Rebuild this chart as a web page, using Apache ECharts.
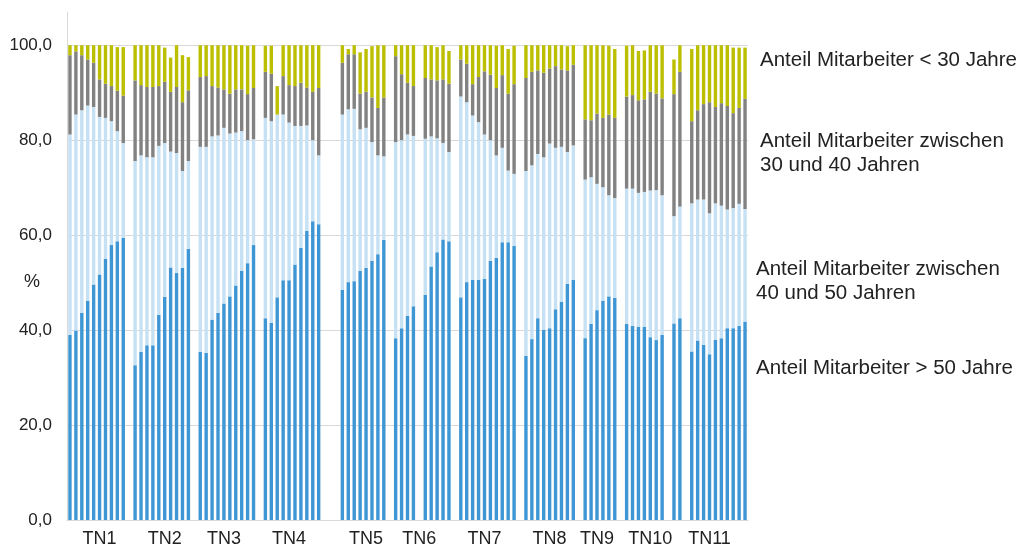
<!DOCTYPE html>
<html>
<head>
<meta charset="utf-8">
<script src="https://cdn.jsdelivr.net/npm/echarts@6/dist/echarts.min.js"></script>
<style>
  html, body { margin: 0; padding: 0; background: #fff; }
  #chart { width: 1021px; height: 549px; }
</style>
</head>
<body>
<div id="chart"></div>
<script>
// one slot per bar, null = empty slot between/inside the groups
// Anteil Mitarbeiter > 50 Jahre
const over50 = [
  39.0, 39.9, 43.6, 46.2, 49.6, 51.7, 55.0, 57.9, 58.7, 59.4, null,   // TN1
  32.6, 35.4, 36.8, 36.8, 43.2, 47.0, 53.2, 52.0, 53.1, 57.1, null,   // TN2
  35.4, 35.2, 42.2, 43.6, 45.6, 47.1, 49.4, 52.5, 54.1, 57.9, null,   // TN3
  42.5, 41.5, 46.9, 50.5, 50.5, 53.8, 57.3, 60.9, 62.9, 62.3, null, null, null, // TN4
  48.5, 50.1, 50.3, 52.5, 53.1, 54.6, 56.0, 59.0, null,               // TN5
  38.3, 40.4, 43.0, 45.0, null, 47.4, 53.4, 56.4, 59.1, 58.7, null,   // TN6
  46.9, 50.1, 50.6, 50.6, 50.8, 54.6, 55.2, 58.5, 58.5, 57.7, null,   // TN7
  34.6, 38.1, 42.5, 40.1, 40.4, 44.4, 45.9, 49.7, 50.6, null,         // TN8
  38.3, 41.3, 44.2, 46.2, 47.1, 46.8, null,                           // TN9
  41.3, 40.9, 40.7, 40.7, 38.5, 37.9, 39.0, null, 41.4, 42.5, null,   // TN10
  35.5, 37.8, 36.9, 34.9, 37.9, 38.3, 40.4, 40.4, 40.9, 41.8          // TN11
];
// Anteil Mitarbeiter zwischen 40 und 50 Jahren
const from40to50 = [
  42.2, 45.5, 42.7, 41.1, 37.4, 33.2, 29.7, 26.1, 23.2, 20.0, null,
  43.0, 41.4, 39.6, 39.6, 35.6, 32.4, 24.4, 25.3, 20.4, 18.5, null,
  43.2, 43.4, 38.6, 37.4, 37.0, 34.3, 32.2, 29.4, 25.9, 22.3, null,
  42.2, 42.5, 38.5, 34.9, 33.2, 29.2, 25.7, 22.2, 17.1, 14.5, null, null, null,
  36.9, 36.4, 36.3, 29.8, 29.5, 25.0, 20.8, 17.6, null,
  41.3, 39.6, 38.2, 35.9, null, 32.9, 27.4, 24.0, 20.3, 18.8, null,
  42.3, 37.9, 34.6, 33.2, 30.4, 25.4, 21.6, 19.9, 15.1, 15.2, null,
  38.9, 36.6, 34.6, 36.3, 38.9, 34.0, 32.7, 27.8, 28.3, null,
  33.4, 30.9, 26.6, 23.9, 21.3, 21.0, null,
  28.5, 28.9, 28.2, 28.4, 30.9, 31.6, 29.4, null, 22.6, 23.5, null,
  31.2, 29.7, 30.6, 29.7, 28.8, 27.9, 25.0, 25.3, 25.7, 23.7
];
// Anteil Mitarbeiter zwischen 30 und 40 Jahren
const from30to40 = [
  16.7, 13.3, 11.6, 9.7, 9.3, 7.9, 7.2, 7.4, 8.5, 10.0, null,
  17.0, 14.8, 14.8, 14.8, 12.6, 12.9, 12.6, 13.9, 14.5, 14.9, null,
  14.7, 14.9, 10.6, 10.1, 8.1, 8.4, 9.1, 8.8, 9.7, 10.8, null,
  9.7, 10.0, 0, 8.1, 7.9, 8.4, 9.1, 8.0, 10.2, 14.2, null, null, null,
  10.9, 11.6, 11.5, 7.5, 7.6, 9.4, 10.0, 12.4, null,
  18.1, 13.9, 10.9, 10.5, null, 12.8, 12.0, 12.2, 13.4, 14.4, null,
  7.8, 8.1, 6.6, 9.5, 13.3, 13.8, 14.2, 15.3, 16.2, 18.9, null,
  19.6, 19.7, 17.6, 17.8, 15.8, 17.2, 16.3, 17.2, 17.0, null,
  12.7, 12.0, 14.8, 14.6, 17.0, 16.9, null,
  19.4, 19.7, 19.5, 19.5, 20.8, 20.3, 20.4, null, 25.7, 28.4, null,
  17.3, 18.8, 20.1, 23.4, 20.3, 21.6, 21.8, 20.0, 20.2, 23.2
];
// Anteil Mitarbeiter < 30 Jahre
const under30 = [
  2.1, 1.3, 2.1, 3.0, 3.7, 7.2, 8.1, 8.6, 9.2, 10.2, null,
  7.4, 8.4, 8.8, 8.8, 8.6, 7.2, 7.2, 8.8, 9.9, 7.0, null,
  6.7, 6.5, 8.6, 8.9, 9.3, 10.2, 9.3, 9.3, 10.2, 9.0, null,
  5.5, 5.9, 6.0, 6.5, 8.4, 8.6, 7.9, 8.9, 9.8, 9.0, null, null, null,
  3.7, 1.1, 1.9, 8.7, 9.0, 10.8, 13.2, 11.0, null,
  2.3, 6.1, 7.9, 8.6, null, 6.9, 7.2, 7.0, 7.2, 6.9, null,
  3.0, 3.9, 8.2, 6.7, 5.5, 6.2, 8.9, 6.3, 9.4, 8.1, null,
  6.9, 5.6, 5.3, 5.8, 4.9, 4.4, 5.1, 5.1, 4.1, null,
  15.6, 15.8, 14.4, 15.3, 14.5, 14.5, null,
  10.7, 10.5, 10.4, 10.3, 9.8, 10.2, 11.2, null, 7.3, 5.6, null,
  15.2, 13.7, 12.4, 12.0, 13.0, 12.2, 12.8, 13.8, 12.7, 10.8
];

const groupNames = ['TN1', 'TN2', 'TN3', 'TN4', 'TN5', 'TN6', 'TN7', 'TN8', 'TN9', 'TN10', 'TN11'];
const groupLabelSlot = [5, 16, 26, 37, 50, 59, 70, 81, 89, 98, 108];
const tickSlots = [0, 10, 20, 30, 40, 50, 60, 70, 80, 93, 103, 113];
const yTicks = [0, 20, 40, 60, 80, 100];

const seriesNames = [
  'Anteil Mitarbeiter > 50 Jahre',
  'Anteil Mitarbeiter zwischen 40 und 50 Jahren',
  'Anteil Mitarbeiter zwischen 30 und 40 Jahren',
  'Anteil Mitarbeiter < 30 Jahre'
];
const colors = ['#3f96d4', '#c6e1f4', '#828282', '#bcbe00'];

// category slots, the label text only sits on the middle slot of a group
const slots = over50.map((v, i) => 's' + i);
const slotLabel = {};
groupLabelSlot.forEach((s, k) => { slotLabel[s] = groupNames[k]; });

let myChart = echarts.init(document.getElementById('chart'));

let makeBar = function (idx, data) {
  return {
    name: seriesNames[idx],
    type: 'bar',
    stack: 'alter',
    barWidth: 3.4,
    itemStyle: { color: colors[idx] },
    data: data
  };
};

const fontFam = 'Liberation Sans, Arial, sans-serif';
let noteStyle = function (text) {
  return { text: text, fontSize: 20.5, lineHeight: 24, fill: '#222', verticalAlign: 'middle', fontFamily: fontFam };
};

let option = {
  animation: false,
  backgroundColor: '#fff',
  textStyle: { fontFamily: fontFam },
  grid: {
    left: 67,
    right: 273,
    top: 12,
    bottom: 29,
    containLabel: false,
    outerBoundsMode: 'none'
  },
  xAxis: {
    type: 'category',
    data: slots,
    axisLine: { lineStyle: { color: '#d9d9d9', width: 1 } },
    axisTick: {
      length: 5,
      lineStyle: { color: '#d9d9d9' },
      interval: function (index) { return tickSlots.indexOf(index) >= 0; }
    },
    axisLabel: {
      interval: 0,
      margin: 10,
      fontSize: 18,
      color: '#222',
      formatter: function (value, index) { return slotLabel[index] || ''; }
    },
    splitLine: { show: false }
  },
  yAxis: {
    type: 'value',
    min: 0,
    max: 107,
    interval: 20,
    axisLine: { show: true, lineStyle: { color: '#d9d9d9', width: 1 } },
    axisTick: { show: false },
    axisLabel: {
      margin: 15,
      fontSize: 17,
      color: '#222',
      showMaxLabel: false,
      formatter: function (v) {
        return yTicks.indexOf(v) >= 0 ? v.toFixed(1).replace('.', ',') : '';
      }
    },
    splitLine: { show: true, showMaxLine: false, lineStyle: { color: '#d9d9d9', width: 1 } }
  },
  graphic: [
    // y axis unit
    { type: 'text', x: 32, y: 282, style: { text: '%', fontSize: 18, fill: '#222', align: 'center', verticalAlign: 'middle', fontFamily: fontFam } },
    // notes on the right side, one per age band
    { type: 'text', x: 760, y: 60, style: noteStyle(seriesNames[3]) },
    { type: 'text', x: 760, y: 153, style: noteStyle('Anteil Mitarbeiter zwischen\n30 und 40 Jahren') },
    { type: 'text', x: 756, y: 281, style: noteStyle('Anteil Mitarbeiter zwischen\n40 und 50 Jahren') },
    { type: 'text', x: 756, y: 368, style: noteStyle(seriesNames[0]) }
  ],
  series: [
    makeBar(0, over50),
    makeBar(1, from40to50),
    makeBar(2, from30to40),
    makeBar(3, under30)
  ]
};
myChart.setOption(option);
</script>
</body>
</html>
